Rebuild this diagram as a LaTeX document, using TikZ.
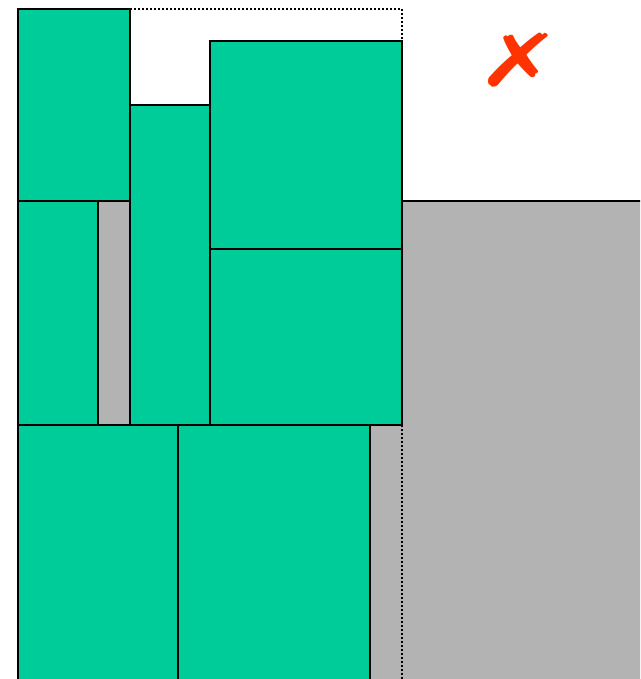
\documentclass[tikz,border=0pt]{standalone}
\usepackage{fontspec}
\newfontfamily\symfont{DejaVu Sans}
\definecolor{boxgreen}{HTML}{00CC99}
\definecolor{wastegray}{HTML}{B3B3B3}
\definecolor{crossred}{HTML}{FF3300}

\begin{document}
\begin{tikzpicture}[x=1pt, y=-1pt]

\useasboundingbox (0, 0) rectangle (640, 679);
\clip (0, 0) rectangle (640, 679);
\tikzset{pack/.style={fill=boxgreen, draw=black, line width=2pt}}

% waste area below the skyline
\fill[wastegray] (18, 201) rectangle (660, 700);
\draw[line width=2pt] (402, 201) -- (660, 201);

% container outline
\draw[line width=1.5pt, dash pattern=on 2pt off 2pt] (18, 9) rectangle (402, 700);

% packed boxes
\foreach \a/\b/\c/\d in {18/9/130/201, 18/201/98/425, 130/105/210/425, 210/41/402/249, 210/249/402/425, 18/425/178/700, 178/425/370/700}
	\draw[pack] (\a, \b) rectangle (\c, \d);

\node[text=crossred, draw=none, font=\symfont\fontsize{73}{73}\selectfont, xscale=1.4] (cross) at (519, 60) {✗};

\end{tikzpicture}
\end{document}
